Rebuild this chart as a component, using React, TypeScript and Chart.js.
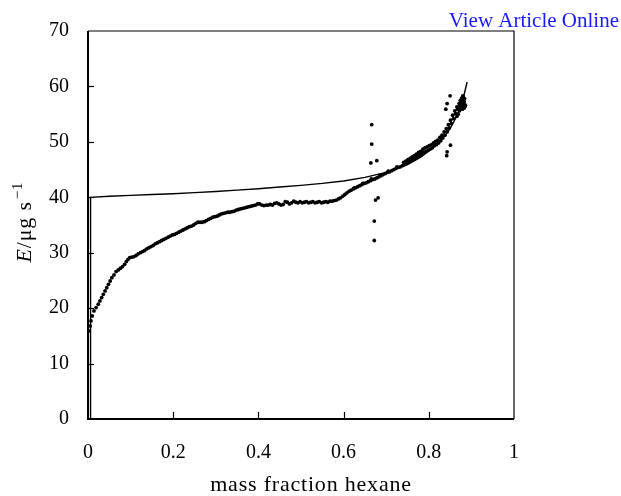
import React, { useEffect, useRef } from 'react';
import { Chart, registerables } from 'chart.js';
Chart.register(...registerables);

const xTicks = [0, 0.2, 0.4, 0.6, 0.8, 1];
const yTicks = [0, 10, 20, 30, 40, 50, 60, 70];

const dataX = [
  0.003, 0.005, 0.007, 0.010, 0.014, 0.019, 0.024, 0.028, 0.032, 0.036, 0.040, 0.044, 0.048, 0.052, 0.056,
  0.061, 0.066, 0.071, 0.076, 0.081, 0.086, 0.090, 0.094, 0.098, 0.103, 0.108, 0.113, 0.118, 0.123, 0.128,
  0.133, 0.138, 0.143, 0.148, 0.153, 0.158, 0.163, 0.168, 0.173, 0.178, 0.183, 0.188, 0.193, 0.198, 0.203,
  0.208, 0.213, 0.218, 0.223, 0.228, 0.233, 0.238, 0.243, 0.248, 0.253, 0.258, 0.263, 0.268, 0.273, 0.278,
  0.283, 0.288, 0.293, 0.298, 0.303, 0.308, 0.313, 0.318, 0.323, 0.328, 0.333, 0.338, 0.343, 0.348, 0.353,
  0.358, 0.363, 0.368, 0.373, 0.378, 0.383, 0.388, 0.393, 0.398, 0.403, 0.408, 0.413, 0.418, 0.423, 0.428,
  0.433, 0.438, 0.443, 0.448, 0.453, 0.458, 0.463, 0.468, 0.473, 0.478, 0.483, 0.488, 0.493, 0.498, 0.503,
  0.508, 0.513, 0.518, 0.523, 0.528, 0.533, 0.538, 0.543, 0.548, 0.553, 0.558, 0.563, 0.568, 0.573, 0.578,
  0.583, 0.588, 0.593, 0.598, 0.603, 0.608, 0.613, 0.618, 0.623, 0.628, 0.633, 0.638, 0.643, 0.648, 0.653,
  0.658, 0.663, 0.668, 0.673, 0.678, 0.683, 0.688, 0.693, 0.698, 0.703, 0.708, 0.713, 0.718, 0.723, 0.728,
  0.733, 0.738, 0.743, 0.748, 0.753, 0.758, 0.763, 0.768, 0.773, 0.778, 0.783, 0.788, 0.793, 0.798, 0.803,
  0.808, 0.813, 0.818, 0.823, 0.828, 0.833, 0.838, 0.843, 0.848, 0.853, 0.858, 0.863, 0.868, 0.873, 0.876,
  0.879, 0.881, 0.883, 0.880, 0.877, 0.882, 0.885,
];
const dataY = [
  15.9, 16.8, 17.7, 18.6, 19.5, 20.1, 20.7, 21.3, 21.9, 22.5, 23.1, 23.7, 24.3, 24.9, 25.5,
  26.0, 26.6, 26.9, 27.2, 27.5, 27.9, 28.4, 28.8, 29.1, 29.2, 29.3, 29.5, 29.8, 30.0, 30.2,
  30.4, 30.7, 30.9, 31.1, 31.3, 31.6, 31.8, 32.0, 32.2, 32.4, 32.6, 32.8, 33.0, 33.2, 33.3,
  33.5, 33.7, 33.9, 34.1, 34.3, 34.5, 34.7, 34.8, 35.0, 35.3, 35.5, 35.5, 35.5, 35.6, 35.8,
  36.0, 36.2, 36.4, 36.5, 36.6, 36.8, 37.0, 37.1, 37.2, 37.3, 37.3, 37.4, 37.5, 37.7, 37.8,
  37.9, 38.0, 38.1, 38.2, 38.3, 38.4, 38.5, 38.6, 38.8, 38.8, 38.6, 38.5, 38.6, 38.6, 38.7,
  38.6, 38.9, 39.0, 38.8, 38.6, 38.7, 39.2, 39.1, 38.8, 39.0, 39.3, 39.1, 39.0, 39.2, 39.0,
  39.1, 39.2, 39.0, 39.1, 39.2, 39.0, 39.1, 39.2, 39.0, 39.1, 39.2, 39.1, 39.3, 39.3, 39.4,
  39.5, 39.7, 39.9, 40.2, 40.5, 40.8, 41.1, 41.3, 41.5, 41.7, 41.9, 42.1, 42.3, 42.5, 42.6,
  42.8, 43.0, 43.2, 43.3, 43.5, 43.7, 43.9, 44.1, 44.3, 44.5, 44.6, 44.8, 45.0, 45.2, 45.4,
  45.5, 45.7, 45.9, 46.1, 46.3, 46.6, 46.8, 47.0, 47.3, 47.5, 47.8, 48.1, 48.3, 48.5, 48.7,
  48.9, 49.3, 49.5, 49.8, 50.2, 50.7, 51.2, 51.8, 52.5, 53.3, 54.2, 55.1, 55.9, 56.5, 57.1,
  57.6, 58.1, 57.3, 56.4, 56.0, 56.6, 56.4,
];

// the thick, overlapping upper band of measured points
const bandX = [
  0.625, 0.645, 0.665, 0.685, 0.705, 0.725,
  0.741, 0.746, 0.751, 0.756, 0.761, 0.766, 0.771, 0.776, 0.781, 0.786, 0.791, 0.796, 0.801, 0.806,
  0.811, 0.816, 0.821, 0.826, 0.831, 0.836, 0.841, 0.846, 0.851, 0.856, 0.861, 0.866, 0.871, 0.874,
  0.877, 0.880, 0.878, 0.875, 0.872, 0.869, 0.866, 0.884, 0.882, 0.886, 0.879, 0.883,
];
const bandY = [
  41.7, 42.5, 43.3, 44.0, 44.7, 45.5,
  46.3, 46.5, 46.8, 47.0, 47.3, 47.5, 47.8, 48.1, 48.3, 48.7, 48.9, 49.1, 49.3, 49.5,
  49.8, 50.1, 50.3, 50.8, 51.2, 51.8, 52.4, 53.1, 53.9, 54.8, 55.6, 56.3, 56.9, 57.5,
  57.9, 58.3, 56.9, 56.2, 55.6, 55.0, 54.6, 57.8, 56.9, 56.6, 55.9, 56.1,
];

const outlierX = [0.666, 0.666, 0.664, 0.678, 0.681, 0.675, 0.672, 0.672, 0.850, 0.843, 0.840, 0.851, 0.843, 0.842];
const outlierY = [53.1, 49.6, 46.2, 46.6, 39.9, 39.5, 35.7, 32.2, 58.3, 56.9, 55.9, 49.4, 48.2, 47.5];

const modelX = [0.005, 0.006, 0.05, 0.1, 0.15, 0.2, 0.25, 0.3, 0.35, 0.4, 0.45, 0.5, 0.55, 0.6, 0.65, 0.7, 0.75, 0.78, 0.8, 0.82, 0.84, 0.85, 0.86, 0.87, 0.88, 0.89];
const modelY = [0, 40.0, 40.2, 40.35, 40.5, 40.65, 40.85, 41.05, 41.3, 41.55, 41.85, 42.15, 42.5, 42.95, 43.6, 44.5, 45.9, 47.2, 48.3, 49.6, 51.3, 52.4, 53.8, 55.4, 57.6, 60.8];

const SERIF = '"Liberation Serif", "Times New Roman", serif';

const decoPlugin = {
  id: 'deco',
  beforeDatasetsDraw(chart: any) {
    const { ctx, chartArea: a, scales } = chart;
    ctx.save();
    ctx.strokeStyle = '#000';
    ctx.lineWidth = 1.2;
    ctx.beginPath();
    ctx.moveTo(a.left, a.top);
    ctx.lineTo(a.right, a.top);
    ctx.lineTo(a.right, a.bottom);
    ctx.stroke();
    ctx.lineWidth = 2;
    ctx.beginPath();
    ctx.moveTo(a.left, a.top);
    ctx.lineTo(a.left, a.bottom);
    ctx.lineTo(a.right, a.bottom);
    ctx.stroke();
    ctx.lineWidth = 1.2;
    yTicks.slice(1, -1).forEach((v) => {
      const y = Math.round(scales.y.getPixelForValue(v)) + 0.5;
      ctx.beginPath();
      ctx.moveTo(a.left, y);
      ctx.lineTo(a.left + 6, y);
      ctx.stroke();
    });
    xTicks.slice(1, -1).forEach((v) => {
      const x = Math.round(scales.x.getPixelForValue(v)) + 0.5;
      ctx.beginPath();
      ctx.moveTo(x, a.bottom);
      ctx.lineTo(x, a.bottom - 7);
      ctx.stroke();
    });
    ctx.restore();
  },
  afterDraw(chart: any) {
    const { ctx } = chart;
    ctx.save();
    ctx.fillStyle = '#000';
    ctx.font = `22px ${SERIF}`;
    (ctx as any).letterSpacing = '0.8px';
    ctx.textAlign = 'center';
    ctx.textBaseline = 'alphabetic';
    ctx.fillText('mass fraction hexane', 311, 491);

    ctx.save();
    ctx.translate(31, 222);
    ctx.rotate(-Math.PI / 2);
    ctx.textAlign = 'left';
    const mainFont = `22px ${SERIF}`;
    const italFont = `italic 22px ${SERIF}`;
    const supFont = `15px ${SERIF}`;
    ctx.font = italFont;
    const wE = ctx.measureText('E').width;
    ctx.font = mainFont;
    const wMid = ctx.measureText('/\u03bcg s').width;
    ctx.font = supFont;
    const wSup = ctx.measureText('\u22121').width;
    let u = -(wE + wMid + wSup + 2) / 2;
    ctx.font = italFont;
    ctx.fillText('E', u, 0);
    u += wE;
    ctx.font = mainFont;
    ctx.fillText('/\u03bcg s', u, 0);
    u += wMid + 2;
    ctx.font = supFont;
    ctx.fillText('\u22121', u, -9);
    ctx.restore();

    (ctx as any).letterSpacing = '0px';
    ctx.font = `21px ${SERIF}`;
    ctx.fillStyle = '#1a1aff';
    ctx.textAlign = 'right';
    ctx.textBaseline = 'alphabetic';
    ctx.fillText('View Article Online', 619, 27);
    ctx.restore();
  },
};

export default function App() {
  const ref = useRef<HTMLCanvasElement | null>(null);
  useEffect(() => {
    if (!ref.current) return;
    const dots = dataX.map((x, i) => ({ x, y: dataY[i] }));
    const band = bandX.map((x, i) => ({ x, y: bandY[i] }));
    const outs = outlierX.map((x, i) => ({ x, y: outlierY[i] }));
    const model = modelX.map((x, i) => ({ x, y: modelY[i] }));
    const pointDs = (label: string, data: any[]) => ({
      label,
      data,
      showLine: false,
      pointRadius: 1.9,
      pointBackgroundColor: '#000',
      pointBorderWidth: 0,
      borderColor: '#000',
    });
    const chart = new Chart(ref.current, {
      type: 'scatter',
      data: {
        datasets: [
          {
            label: 'model',
            data: model,
            showLine: true,
            borderColor: '#000',
            borderWidth: 1.4,
            pointRadius: 0,
            tension: 0,
            fill: false,
          },
          pointDs('measured', dots),
          pointDs('measured band', band),
          pointDs('outliers', outs),
        ],
      },
      options: {
        responsive: false,
        animation: false,
        devicePixelRatio: 1,
        layout: { padding: { left: 0, top: 28, right: 107, bottom: 0 } },
        plugins: { legend: { display: false }, tooltip: { enabled: false }, title: { display: false } },
        scales: {
          x: {
            type: 'linear',
            min: 0,
            max: 1,
            afterBuildTicks: (s: any) => {
              s.ticks = xTicks.map((v) => ({ value: v }));
            },
            afterFit: (s: any) => {
              s.height = 77;
            },
            grid: { display: false, drawTicks: false },
            border: { display: false },
            ticks: {
              color: '#000',
              padding: 22,
              maxRotation: 0,
              autoSkip: false,
              font: { family: SERIF, size: 20 },
              callback: (v: any) => String(v),
            },
          },
          y: {
            type: 'linear',
            min: 0,
            max: 70,
            afterBuildTicks: (s: any) => {
              s.ticks = yTicks.map((v) => ({ value: v }));
            },
            afterFit: (s: any) => {
              s.width = 88;
            },
            grid: { display: false, drawTicks: false },
            border: { display: false },
            ticks: {
              color: '#000',
              padding: 19,
              autoSkip: false,
              font: { family: SERIF, size: 20 },
              callback: (v: any) => String(v),
            },
          },
        },
      },
      plugins: [decoPlugin],
    } as any);
    return () => chart.destroy();
  }, []);
  return (
    <div style={{ position: 'absolute', left: 0, top: 0, width: 621, height: 496, background: '#fff' }}>
      <canvas ref={ref} width={621} height={496} style={{ display: 'block', width: 621, height: 496 }} />
    </div>
  );
}
